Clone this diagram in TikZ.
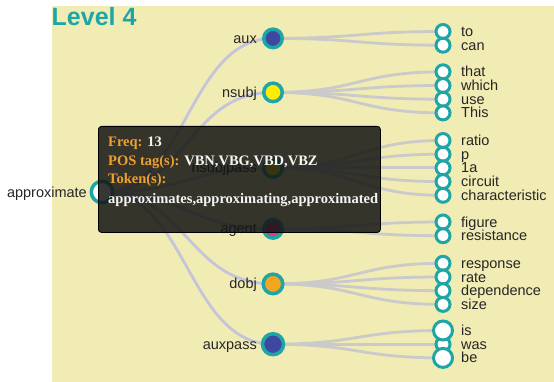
\documentclass[tikz,border=0pt]{standalone}
\usepackage{fontspec}
\setmainfont{Liberation Sans}
\newfontfamily\tipfont{Liberation Serif}
\usetikzlibrary{calc}

\definecolor{panel}{RGB}{241,235,180}
\definecolor{tealring}{RGB}{30,166,166}
\definecolor{linkgray}{RGB}{202,202,202}
\definecolor{rootlink}{RGB}{196,196,218}
\definecolor{navyfill}{RGB}{63,72,160}
\definecolor{yellowfill}{RGB}{255,236,0}
\definecolor{magentafill}{RGB}{214,60,150}
\definecolor{orangefill}{RGB}{245,165,30}
\definecolor{tipfill}{RGB}{20,20,18}
\definecolor{tiporange}{RGB}{238,160,50}
\definecolor{tipwhite}{RGB}{245,245,245}

\pgfdeclarelayer{bg}
\pgfdeclarelayer{links}
\pgfdeclarelayer{top}
\pgfsetlayers{bg,links,main,top}

\tikzset{
  labelfont/.style={font=\fontsize{14.5}{17}\selectfont, text=black!85},
  leaf/.style={circle, inner sep=0pt, minimum size=14pt, draw=tealring,
    line width=3pt, fill=white},
  mid/.style={circle, inner sep=0pt, minimum size=18.5pt, draw=tealring,
    line width=3.5pt},
  rootnode/.style={circle, inner sep=0pt, minimum size=21.5pt, draw=tealring,
    line width=3.5pt, fill=white},
  leaftext/.style={labelfont, anchor=base west, inner sep=0pt},
  midtext/.style={labelfont, anchor=base east, inner sep=0pt},
  link/.style={line width=2.8pt, draw=linkgray},
  tipbox/.style={rectangle, rounded corners=3pt, fill=tipfill, fill opacity=0.85,
    draw=black, line width=0.8pt, inner sep=0pt, anchor=north west},
  tiptext/.style={font=\tipfont\bfseries\fontsize{14.5}{17}\selectfont,
    text=tipwhite, anchor=base west, inner sep=0pt},
}

% leaf: [size] name, y, word
\newcommand\leafnode[4][14pt]{%
  \node[leaf, minimum size=#1] (#2) at (443,#3) {};
  \node[leaftext] (#2-txt) at (461,#3) [yshift=-5pt] {#4};
}
% middle node: name, y, fill, word, size
\newcommand\midnode[5]{%
  \node[mid, fill=#3, minimum size=#5] (#1) at (273,#2) {};
  \node[midtext] (#1-txt) at (257,#2) [yshift=-5pt] {#4};
}
% horizontal diagonal connector between two named nodes
\newcommand\diag[3][linkgray]{%
  \draw[link, draw=#1] let \p1=(#2.center), \p2=(#3.center) in
    (\p1) .. controls ({(\x1+\x2)/2},\y1) and ({(\x1+\x2)/2},\y2) .. (\p2);
}

\begin{document}
\begin{tikzpicture}[x=1pt, y=-1pt]
\useasboundingbox (0,0) rectangle (554,382);

\begin{pgfonlayer}{bg}
  \fill[white] (0,0) rectangle (554,382);
  \fill[panel] (52,6) rectangle (554,382);
\end{pgfonlayer}

\node[anchor=base west, inner sep=0pt, text=tealring,
  font=\bfseries\fontsize{25}{30}\selectfont] (title) at (51.5,26) {Level 4};

% root
\node[rootnode] (root) at (102,192) {};
\node[midtext] (root-txt) at (87,192) [yshift=-5pt] {approximate};

% relations
\midnode{aux}{38.4}{navyfill}{aux}{18.5pt}
\midnode{nsubj}{92.4}{yellowfill}{nsubj}{18.5pt}
\midnode{nsubjpass}{167.9}{yellowfill}{nsubjpass}{18.5pt}
\midnode{agent}{228.9}{magentafill}{agent}{18.5pt}
\midnode{dobj}{283.9}{orangefill}{dobj}{19.5pt}
\midnode{auxpass}{344.2}{navyfill}{auxpass}{21pt}

% words
\leafnode{to}{31.5}{to}
\leafnode{can}{45.2}{can}
\leafnode{that}{71.8}{that}
\leafnode{which}{85.5}{which}
\leafnode{use}{99.2}{use}
\leafnode{this}{112.9}{This}
\leafnode{ratio}{140.5}{ratio}
\leafnode{p}{154.2}{p}
\leafnode{onea}{167.9}{1a}
\leafnode{circuit}{181.6}{circuit}
\leafnode{characteristic}{195.3}{characteristic}
\leafnode{figure}{222}{figure}
\leafnode{resistance}{235.7}{resistance}
\leafnode{response}{263.3}{response}
\leafnode{rate}{277}{rate}
\leafnode{dependence}{290.7}{dependence}
\leafnode{size}{304.4}{size}
\leafnode{was}{344.2}{was}
\leafnode[19pt]{is}{330.5}{is}
\leafnode[19pt]{be}{357.9}{be}

\begin{pgfonlayer}{links}
  \foreach \m in {aux,nsubj,nsubjpass,agent,dobj,auxpass}
    {\diag[rootlink]{root}{\m}}
  \foreach \m/\w in {aux/to, aux/can,
      nsubj/that, nsubj/which, nsubj/use, nsubj/this,
      nsubjpass/ratio, nsubjpass/p, nsubjpass/onea, nsubjpass/circuit,
      nsubjpass/characteristic,
      agent/figure, agent/resistance,
      dobj/response, dobj/rate, dobj/dependence, dobj/size,
      auxpass/is, auxpass/was, auxpass/be}
    {\diag{\m}{\w}}
\end{pgfonlayer}

% hover box
\begin{pgfonlayer}{top}
  \node[tipbox, minimum width=282pt, minimum height=106pt] (tip) at (98,126) {};
  \node[tiptext] (tip-freq) at (108,146.5)
    {\textcolor{tiporange}{Freq:} 13};
  \node[tiptext] (tip-pos) at (108,165.5)
    {\textcolor{tiporange}{POS tag(s):} VBN,VBG,VBD,VBZ};
  \node[tiptext] (tip-tok) at (108,184)
    {\textcolor{tiporange}{Token(s):}};
  \node[tiptext] (tip-list) at (108,204)
    {approximates,approximating,approximated};
\end{pgfonlayer}
\end{tikzpicture}
\end{document}
